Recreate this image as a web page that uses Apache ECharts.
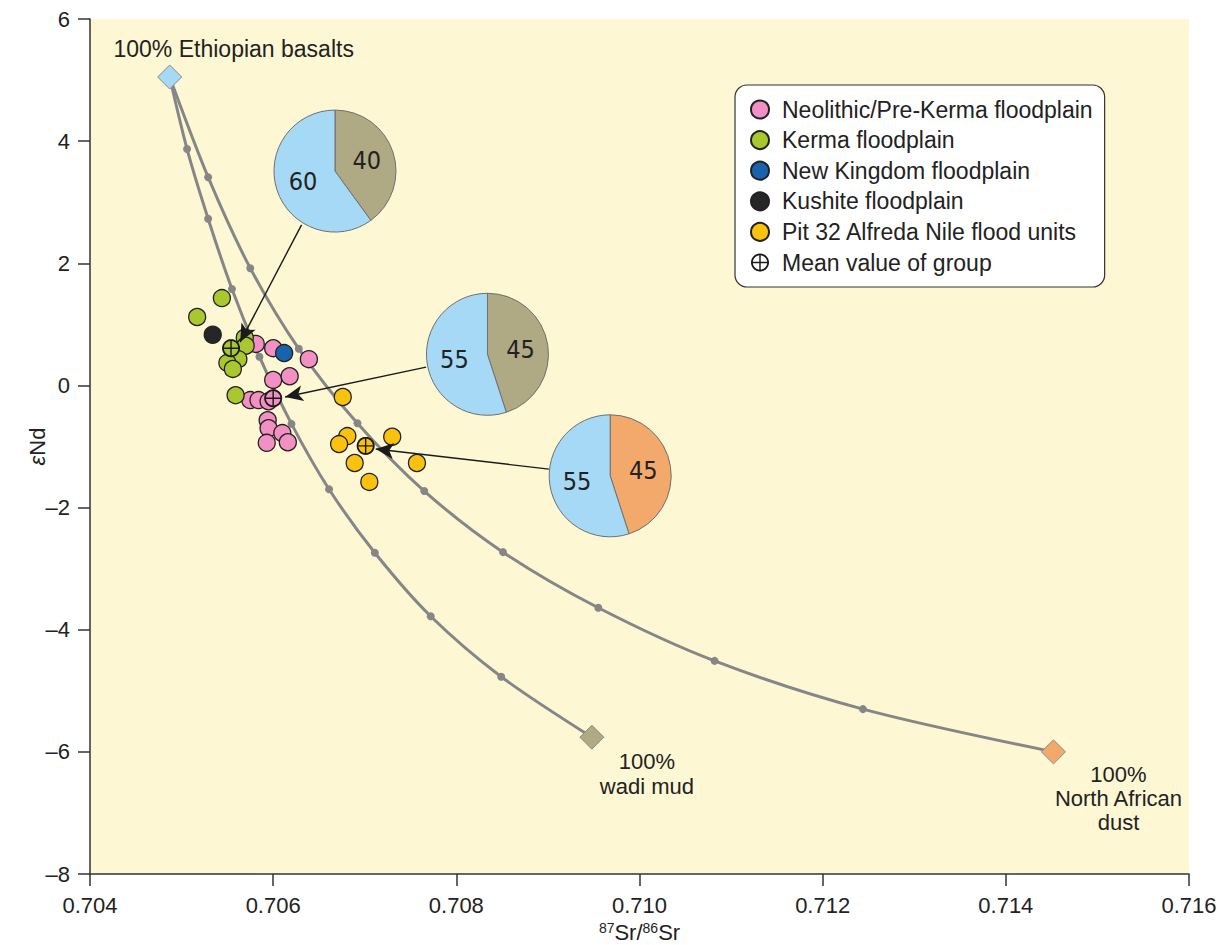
<!DOCTYPE html>
<html><head><meta charset="utf-8">
<script src="https://cdn.jsdelivr.net/npm/echarts@6/dist/echarts.min.js"></script>
<style>html,body{margin:0;padding:0;background:#fff}#c{width:1228px;height:945px}</style>
</head><body><div id="c"></div>
<script>
// ---------- DATA ----------
const xTickValues = [0.704, 0.706, 0.708, 0.710, 0.712, 0.714, 0.716];
const xTickLabels = ['0.704', '0.706', '0.708', '0.710', '0.712', '0.714', '0.716'];
const yTickValues = [-8, -6, -4, -2, 0, 2, 4, 6];
const yTickLabels = ['\u20138', '\u20136', '\u20134', '\u20132', '0', '2', '4', '6'];

// mixing curve: Ethiopian basalts -> wadi mud (10% steps)
const mixWadiX = [0.70487, 0.70506, 0.70529, 0.70555, 0.70585, 0.70620, 0.70661, 0.70711, 0.70772, 0.70849, 0.70948];
const mixWadiY = [5.05, 3.87, 2.73, 1.58, 0.47, -0.63, -1.70, -2.74, -3.78, -4.77, -5.76];
// mixing curve: Ethiopian basalts -> North African dust (10% steps)
const mixDustX = [0.70487, 0.70529, 0.70575, 0.70628, 0.70692, 0.70765, 0.70851, 0.70955, 0.71082, 0.71244, 0.71452];
const mixDustY = [5.05, 3.41, 1.92, 0.60, -0.62, -1.73, -2.73, -3.64, -4.51, -5.30, -6.00];

const endNames = ['100% Ethiopian basalts', '100%\nwadi mud', '100%\nNorth African\ndust'];
const endX = [0.70487, 0.70948, 0.71452];
const endY = [5.05, -5.76, -6.00];

const groupNames = ['Neolithic/Pre-Kerma floodplain', 'Kerma floodplain', 'New Kingdom floodplain', 'Kushite floodplain', 'Pit 32 Alfreda Nile flood units'];
const neolithicX = [0.70581, 0.70600, 0.70639, 0.70600, 0.70618, 0.70575, 0.70584, 0.70595, 0.70594, 0.70595, 0.70610, 0.70616, 0.70593];
const neolithicY = [0.68, 0.61, 0.43, 0.09, 0.15, -0.24, -0.24, -0.26, -0.57, -0.70, -0.78, -0.93, -0.94];
const kermaX = [0.70544, 0.70517, 0.70569, 0.70570, 0.70562, 0.70550, 0.70556, 0.70559];
const kermaY = [1.43, 1.12, 0.78, 0.65, 0.43, 0.37, 0.27, -0.16];
const newKingdomX = [0.70612];
const newKingdomY = [0.53];
const kushiteX = [0.70534];
const kushiteY = [0.83];
const pit32X = [0.70676, 0.70681, 0.70672, 0.70730, 0.70689, 0.70757, 0.70705];
const pit32Y = [-0.19, -0.83, -0.96, -0.84, -1.27, -1.27, -1.58];

const meanName = 'Mean value of group';
const meanX = [0.70554, 0.70600, 0.70701];   // Kerma, Neolithic, Pit 32
const meanY = [0.61, -0.21, -0.99];

// pies: share of Ethiopian basalts vs second end member
const pieBasalt = [60, 55, 55];
const pieOther = [40, 45, 45];
const pieOtherKind = ['wadi', 'wadi', 'dust'];
const pieCenterX = [0.706675, 0.70834, 0.70968];
const pieCenterY = [3.51, 0.51, -1.48];

// arrows from pies to group means
const arrowFromX = [0.70631, 0.70767, 0.70901];
const arrowFromY = [2.63, 0.30, -1.37];
const arrowToX = [0.70564, 0.70613, 0.70712];
const arrowToY = [0.71, -0.19, -1.04];

// ---------- STYLE ----------
const FONT = '"Liberation Sans", Arial, Helvetica, sans-serif';
const NARROW = '"Liberation Sans Narrow", "DejaVu Sans Condensed", "Liberation Sans", sans-serif';
const TXT = '#222';
const groupColors = ['#F28FC3', '#A9C72E', '#1763AE', '#262626', '#FAC20E'];
const endColors = ['#A6D9F5', '#AFA984', '#F3A96C'];
const basaltColor = '#A6D9F5';
const otherColors = { wadi: '#AFA984', dust: '#F3A96C' };
const curveColor = '#868686';

function zip(xs, ys) { return xs.map((x, i) => [x, ys[i]]); }

// ⊕ symbol: ring + cross as a filled path
function circlePts(r, n, ccw) {
  const pts = [];
  for (let i = 0; i < n; i++) {
    const a = (ccw ? -1 : 1) * i / n * Math.PI * 2;
    pts.push((r * Math.cos(a)).toFixed(4) + ',' + (r * Math.sin(a)).toFixed(4));
  }
  return 'M' + pts.join(' L') + ' Z';
}
const bw = 0.16;
const ringPath = 'path://' + circlePts(1, 60, false) + ' ' + circlePts(1 - 0.2, 60, true) +
  ` M-0.9,${-bw / 2} L0.9,${-bw / 2} L0.9,${bw / 2} L-0.9,${bw / 2} Z` +
  ` M${bw / 2},-0.9 L${bw / 2},0.9 L${-bw / 2},0.9 L${-bw / 2},-0.9 Z`;

const chart = echarts.init(document.getElementById('c'), null, { renderer: 'svg' });

function tickFmt(vals, labels) {
  return v => { const i = vals.findIndex(t => Math.abs(t - v) < 1e-9); return i >= 0 ? labels[i] : ''; };
}

const groupData = [zip(neolithicX, neolithicY), zip(kermaX, kermaY), zip(newKingdomX, newKingdomY), zip(kushiteX, kushiteY), zip(pit32X, pit32Y)];
const meanColors = [groupColors[1], groupColors[0], groupColors[4]];

const endLabelCfg = [
  { position: 'top', distance: 4, offset: [64, 0], lineHeight: 24, fontSize: 23 },
  { position: 'bottom', distance: 4, offset: [55, -5], lineHeight: 25, fontSize: 22 },
  { position: 'bottom', distance: 4, offset: [65, -6], lineHeight: 24, fontSize: 22 }
];

function baseSeries() {
  const s = [];
  s.push({ type: 'line', name: 'curveWadi', data: zip(mixWadiX, mixWadiY), smooth: 0.3, z: 2,
    lineStyle: { color: curveColor, width: 3 }, symbol: 'circle', symbolSize: 8,
    itemStyle: { color: curveColor, opacity: 1 }, silent: true });
  s.push({ type: 'line', name: 'curveDust', data: zip(mixDustX, mixDustY), smooth: 0.3, z: 2,
    lineStyle: { color: curveColor, width: 3 }, symbol: 'circle', symbolSize: 8,
    itemStyle: { color: curveColor, opacity: 1 }, silent: true });
  s.push({ type: 'scatter', name: 'endmembers', z: 3, symbol: 'diamond', symbolSize: 24, silent: true,
    data: endX.map((x, i) => ({
      value: [x, endY[i]],
      itemStyle: { color: endColors[i], borderColor: '#8a8a8a', borderWidth: 1, opacity: 1 },
      label: Object.assign({ show: true, formatter: endNames[i], fontFamily: FONT, color: TXT, align: 'center', opacity: 1 }, endLabelCfg[i])
    }))
  });
  groupNames.forEach((n, i) => {
    s.push({ type: 'scatter', name: n, data: groupData[i], symbol: 'circle', symbolSize: 17, z: 4,
      itemStyle: { color: groupColors[i], borderColor: '#222', borderWidth: 1.3, opacity: 1 } });
  });
  s.push({ type: 'scatter', name: 'meanFill', z: 5, symbol: 'circle', symbolSize: 17, silent: true,
    data: meanX.map((x, i) => ({ value: [x, meanY[i]], itemStyle: { color: meanColors[i], opacity: 1 } })) });
  s.push({ type: 'scatter', name: meanName, z: 6, symbol: ringPath, symbolSize: 18,
    itemStyle: { color: '#1a1a1a', opacity: 1 }, data: zip(meanX, meanY) });
  s.push({ type: 'scatter', name: 'arrows', z: 7, symbolSize: 0, silent: true, data: zip(arrowToX, arrowToY),
    markLine: { silent: true, animation: false, symbol: ['none', 'arrow'], symbolSize: [12, 18],
      lineStyle: { color: '#1a1a1a', width: 1.4, type: 'solid', opacity: 1 }, label: { show: false },
      emphasis: { disabled: true },
      data: arrowFromX.map((x, i) => [{ coord: [x, arrowFromY[i]] }, { coord: [arrowToX[i], arrowToY[i]] }]) } });
  return s;
}

const option = {
  animation: false,
  backgroundColor: '#ffffff',
  textStyle: { fontFamily: FONT },
  grid: { left: 90, right: 39, top: 19, bottom: 71, show: true, backgroundColor: '#FDF7D4', borderWidth: 0,
    containLabel: false, outerBoundsMode: 'none' },
  xAxis: {
    type: 'value', min: 0.704, max: 0.716, interval: 0.002,
    name: '{sup|87}Sr/{sup|86}Sr', nameLocation: 'middle', nameGap: 47, nameMoveOverlap: false,
    nameTextStyle: { fontSize: 22, color: TXT, fontFamily: FONT,
      rich: { sup: { fontSize: 14, verticalAlign: 'top', color: TXT, fontFamily: FONT } } },
    axisLine: { show: true, onZero: false, lineStyle: { color: '#333', width: 1.5 } },
    axisTick: { show: true, length: 12, inside: false, lineStyle: { color: '#333', width: 1.5 } },
    axisLabel: { fontSize: 22, color: TXT, margin: 20, formatter: tickFmt(xTickValues, xTickLabels) },
    splitLine: { show: false }
  },
  yAxis: {
    type: 'value', min: -8, max: 6, interval: 2,
    name: '{it|ε}Nd', nameLocation: 'middle', nameGap: 42, nameMoveOverlap: false,
    nameTextStyle: { fontSize: 22, color: TXT, fontFamily: FONT,
      rich: { it: { fontSize: 22, fontStyle: 'italic', color: TXT, fontFamily: FONT } } },
    axisLine: { show: true, onZero: false, lineStyle: { color: '#333', width: 1.5 } },
    axisTick: { show: true, length: 12, inside: false, lineStyle: { color: '#333', width: 1.5 } },
    axisLabel: { fontSize: 22, color: TXT, margin: 20, formatter: tickFmt(yTickValues, yTickLabels) },
    splitLine: { show: false }
  },
  legend: {
    orient: 'vertical', left: 735, top: 85,
    padding: [13, 12, 13, 15], itemWidth: 18, itemHeight: 18, itemGap: 7.6,
    backgroundColor: '#ffffff', borderColor: '#333', borderWidth: 1.2, borderRadius: 12,
    selectedMode: false,
    textStyle: { fontSize: 23, lineHeight: 22, color: TXT, fontFamily: FONT, padding: [0, 0, 0, 8] },
    data: groupNames.map(n => ({ name: n, icon: 'circle' })).concat([{ name: meanName, icon: ringPath }])
  },
  series: baseSeries()
};

chart.setOption(option);

// pies placed at data coordinates through the grid's own scales
const pieSeries = pieBasalt.map((b, i) => {
  const c = chart.convertToPixel({ gridIndex: 0 }, [pieCenterX[i], pieCenterY[i]]);
  return {
    type: 'pie', name: 'pie' + i, center: c, radius: 61, startAngle: 90, clockwise: true, z: 8,
    silent: true, animation: false, emphasis: { disabled: true },
    itemStyle: { borderColor: '#707070', borderWidth: 1 },
    label: { show: true, position: 'inside', formatter: '{c}', fontSize: 25, color: TXT, fontFamily: NARROW },
    labelLine: { show: false },
    data: [
      { value: pieOther[i], name: pieOtherKind[i], itemStyle: { color: otherColors[pieOtherKind[i]] } },
      { value: b, name: 'basalt', itemStyle: { color: basaltColor } }
    ]
  };
});
chart.setOption({ series: baseSeries().concat(pieSeries) });
</script>
</body></html>
